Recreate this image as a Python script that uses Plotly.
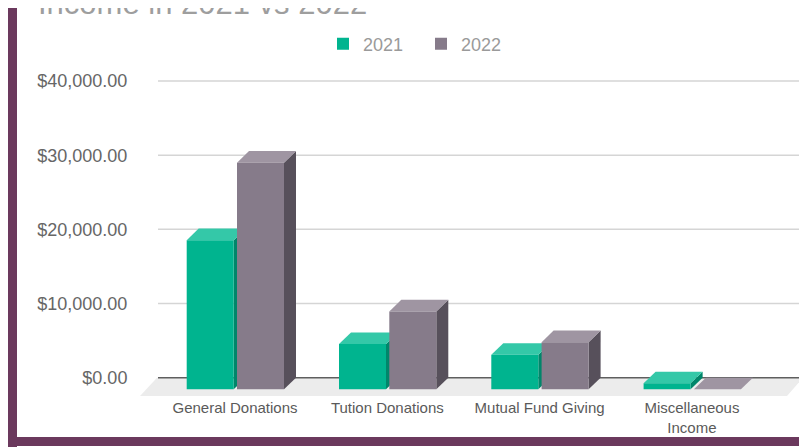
import plotly.graph_objects as go

# ---------------- data ----------------
categories = ["General Donations", "Tution Donations", "Mutual Fund Giving", "Miscellaneous<br>Income"]
series_names = ["2021", "2022"]
values_2021 = [20100, 6100, 4650, 800]
values_2022 = [30550, 10500, 6350, 0]
y_tick_values = [0, 10000, 20000, 30000, 40000]
y_tick_labels = [f"${v:,.2f}" for v in y_tick_values]
title_text = "Income in 2021 vs 2022"

# ---------------- geometry (page pixels; the page body adds an 8px offset) ----------------
OFF = 8
W, H = 807 - OFF, 447 - OFF
L, R, T, B = 140 - OFF, 4, 70 - OFF, 50
plot_w = W - L - R
plot_h = H - T - B

PX_PER_CAT = 152.3          # pixels per category step
PX_PER_Y = 74.17 / 10000    # pixels per dollar
CAT0_PX = 235.0 - OFF       # x of first category centre
ZERO_PX = 377.7 - OFF       # y of the back zero line

x_min = -(CAT0_PX - L) / PX_PER_CAT
x_max = x_min + plot_w / PX_PER_CAT
y_min = -((H - B) - ZERO_PX) / PX_PER_Y
y_max = y_min + plot_h / PX_PER_Y

# 3D depth of the bars and of the floor
DX = 12 / PX_PER_CAT
DY = 11.6 / PX_PER_Y
FLOOR_DX_L = 17 / PX_PER_CAT
FLOOR_DX_R = 16 / PX_PER_CAT
FLOOR_DY = 18.3 / PX_PER_Y

BAR_W = 47 / PX_PER_CAT
OFFSETS = [-48.3 / PX_PER_CAT, 2 / PX_PER_CAT]

COLORS = {
    "2021": {"front": "#00b48f", "top": "#34c8a8", "side": "#00866a"},
    "2022": {"front": "#867b8a", "top": "#9f95a2", "side": "#57505b"},
}
PURPLE = "#6b395d"
FONT = "Arial, Liberation Sans, sans-serif"

positions = list(range(len(categories)))
series_values = {"2021": values_2021, "2022": values_2022}


def px_x(page_px):
    return (page_px - OFF - L) / plot_w


def px_y(page_py):
    return ((H - B) - (page_py - OFF)) / plot_h


fig = go.Figure()
for name, off in zip(series_names, OFFSETS):
    fig.add_trace(go.Bar(
        name=name,
        x=positions,
        y=series_values[name],
        base=-DY,
        width=BAR_W,
        offset=off,
        marker=dict(color=COLORS[name]["front"], line=dict(width=0)),
        hovertemplate="%{y:$,.2f}<extra>" + name + "</extra>",
    ))

shapes = []
# gridlines (back plane)
grid_x0 = x_min + 18 / PX_PER_CAT
for v in y_tick_values[1:]:
    shapes.append(dict(type="line", xref="x", yref="y", x0=grid_x0, x1=x_max, y0=v, y1=v,
                       line=dict(color="#d5d5d5", width=1.5), layer="below"))
# floor
floor_path = (f"M{x_min},{-FLOOR_DY} L{x_max - FLOOR_DX_R},{-FLOOR_DY} "
              f"L{x_max},0 L{x_min + FLOOR_DX_L},0 Z")
shapes.append(dict(type="path", xref="x", yref="y", path=floor_path,
                   fillcolor="#ececec", line=dict(width=0), layer="below"))
# zero line
shapes.append(dict(type="line", xref="x", yref="y", x0=grid_x0, x1=x_max, y0=0, y1=0,
                   line=dict(color="#5f5f5f", width=1.5), layer="below"))

# 3D top and side faces (2022 first so 2021 side faces sit over 2022 top faces)
for name, off in reversed(list(zip(series_names, OFFSETS))):
    for p, v in zip(positions, series_values[name]):
        x0 = p + off
        x1 = x0 + BAR_W
        top = v - DY
        top_path = f"M{x0},{top} L{x1},{top} L{x1 + DX},{v} L{x0 + DX},{v} Z"
        side_path = f"M{x1},{-DY} L{x1 + DX},0 L{x1 + DX},{v} L{x1},{top} Z"
        shapes.append(dict(type="path", xref="x", yref="y", path=side_path,
                           fillcolor=COLORS[name]["side"], line=dict(width=0), layer="below"))
        shapes.append(dict(type="path", xref="x", yref="y", path=top_path,
                           fillcolor=COLORS[name]["top"], line=dict(width=0), layer="below"))

# purple frame
shapes.append(dict(type="rect", xref="paper", yref="paper",
                   x0=px_x(OFF - 1), x1=px_x(17), y0=px_y(447), y1=px_y(6),
                   fillcolor=PURPLE, line=dict(width=0), layer="above"))
shapes.append(dict(type="rect", xref="paper", yref="paper",
                   x0=px_x(OFF - 1), x1=px_x(808), y0=px_y(446), y1=px_y(437),
                   fillcolor=PURPLE, line=dict(width=0), layer="above"))

annotations = [dict(text=title_text, xref="paper", yref="paper",
                    x=px_x(36), xanchor="left", y=px_y(3.5), yanchor="middle",
                    showarrow=False, font=dict(size=31, color="#9e9e9e", family=FONT))]

fig.update_layout(
    width=W, height=H,
    margin=dict(l=L, r=R, t=T, b=B, autoexpand=False),
    paper_bgcolor="white", plot_bgcolor="white",
    font=dict(family=FONT),
    barmode="overlay",
    showlegend=True,
    legend=dict(orientation="h", x=px_x(421), xanchor="center", y=px_y(44), yanchor="middle",
                font=dict(size=18, color="#9a9a9a"), bgcolor="rgba(0,0,0,0)", traceorder="normal",
                entrywidth=53, entrywidthmode="pixels"),
    xaxis=dict(range=[x_min, x_max], tickmode="array", tickvals=positions, ticktext=categories,
               showgrid=False, zeroline=False, showline=False,
               ticks="", tickfont=dict(size=15, color="#5a5a5a"), fixedrange=True),
    yaxis=dict(range=[y_min, y_max], tickmode="array", tickvals=y_tick_values, ticktext=y_tick_labels,
               showgrid=False, zeroline=False, showline=False,
               ticks="outside", ticklen=8, tickcolor="rgba(0,0,0,0)",
               tickfont=dict(size=18, color="#666666"), fixedrange=True),
    shapes=shapes,
    annotations=annotations,
)

fig.write_html("out.html")
